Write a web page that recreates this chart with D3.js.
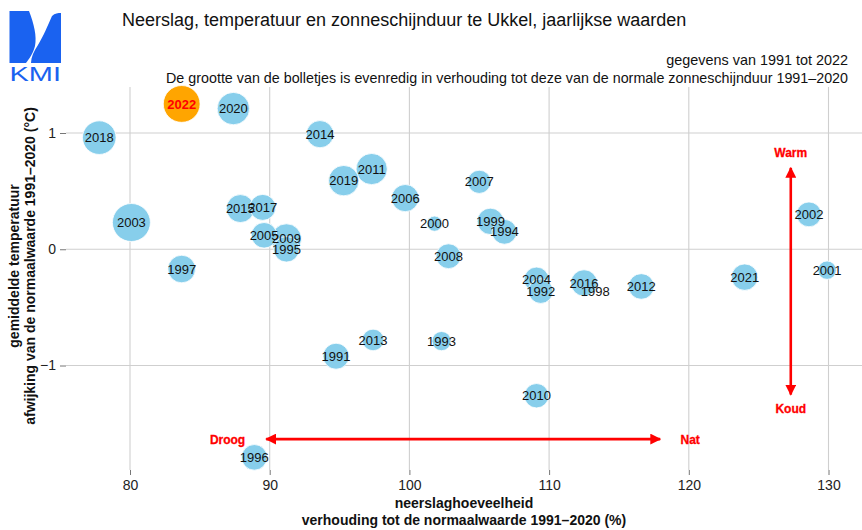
<!DOCTYPE html>
<html>
<head>
<meta charset="utf-8">
<script src="https://cdn.jsdelivr.net/npm/d3@7"></script>
<style>
  html, body { margin: 0; padding: 0; background: #fff; }
  svg { display: block; font-family: "Liberation Sans", Arial, Helvetica, sans-serif; }
</style>
</head>
<body>
<svg id="chart" width="862" height="530"></svg>
<script>
// ---------- DATA ----------
const years = [1991, 1992, 1993, 1994, 1995, 1996, 1997, 1998, 1999, 2000,
               2001, 2002, 2003, 2004, 2005, 2006, 2007, 2008, 2009, 2010,
               2011, 2012, 2013, 2014, 2015, 2016, 2017, 2018, 2019, 2020,
               2021, 2022];
// precipitation, ratio to normal 1991-2020 (%)
const precipitation = [94.75, 109.4, 102.3, 106.8, 91.2, 88.9, 83.7, 113.3, 105.8, 101.8,
                       129.9, 128.6, 80.1, 109.1, 89.6, 99.7, 105.0, 102.8, 91.2, 109.1,
                       97.3, 116.6, 97.4, 93.6, 87.9, 112.5, 89.5, 77.8, 95.3, 87.4,
                       124.0, 83.7];
// mean temperature, anomaly vs normal 1991-2020 (°C)
const temperature = [-0.92, -0.36, -0.79, 0.15, 0.0, -1.79, -0.17, -0.36, 0.24, 0.22,
                     -0.18, 0.30, 0.23, -0.26, 0.12, 0.44, 0.58, -0.06, 0.09, -1.26,
                     0.69, -0.32, -0.78, 0.99, 0.35, -0.29, 0.36, 0.96, 0.59, 1.21,
                     -0.24, 1.25];
// sunshine duration, ratio to normal 1991-2020 (%)
const sunshine = [110.5, 108.8, 102, 109, 110, 110, 112.5, 79, 111, 97,
                  101, 109, 125.5, 109, 110, 112, 107, 109, 115.5, 108.5,
                  117, 110, 105, 112, 113, 111, 110.5, 120, 116, 118.5,
                  111, 124];
const highlightYear = 2022;
const xTicks = [80, 90, 100, 110, 120, 130];
const yTicks = [-1, 0, 1];
const yTickLabels = ["\u22121", "0", "1"];

const title = "Neerslag, temperatuur en zonneschijnduur te Ukkel, jaarlijkse waarden";
const subtitle1 = "gegevens van 1991 tot 2022";
const subtitle2 = "De grootte van de bolletjes is evenredig in verhouding tot deze van de normale zonneschijnduur 1991\u20132020";
const xTitle = ["neerslaghoeveelheid", "verhouding tot de normaalwaarde 1991\u20132020 (%)"];
const yTitle = ["gemiddelde temperatuur", "afwijking van de normaalwaarde 1991\u20132020 (\u00B0C)"];

// ---------- LAYOUT ----------
const svg = d3.select("#chart");
const plot = { left: 66, right: 862, top: 87, bottom: 470 };

const x = d3.scaleLinear().domain([80, 130]).range([130, 828.5]);
const y = d3.scaleLinear().domain([-1, 1]).range([365.5, 133]);
const r = d3.scaleLinear().domain([78, 128]).range([0, 20]);

const gridColor = "#cfcfcf";
const font = '"Liberation Sans", Arial, Helvetica, sans-serif';

// ---------- LOGO ----------
const logo = svg.append("g").attr("fill", "#1a62f0");
logo.append("path").attr("d",
  "M9.5,11 L29,11 C34,24 37,36 35,46 C33,54 29,59 26,63 L9.5,63 Z");
logo.append("path").attr("d",
  "M61,13 L61,63 L31,63 C31,57 34,51 38,45 C43,37 48,25 52,16 C55,13 58,13 61,13 Z");
logo.append("text").attr("x", 9.5).attr("y", 81)
  .attr("textLength", 51.5).attr("lengthAdjust", "spacingAndGlyphs")
  .style("font-size", "20px").text("KMI");

// ---------- TITLES ----------
svg.append("text").attr("x", 122).attr("y", 26)
  .style("font-size", "18px").attr("fill", "#111").text(title);
svg.append("text").attr("x", 848).attr("y", 65).attr("text-anchor", "end")
  .style("font-size", "14.4px").attr("fill", "#111").text(subtitle1);
svg.append("text").attr("x", 848).attr("y", 83).attr("text-anchor", "end")
  .style("font-size", "14.3px").attr("fill", "#111").text(subtitle2);

// ---------- GRID ----------
const grid = svg.append("g").attr("stroke", gridColor).attr("stroke-width", 1.1);
grid.selectAll("line.v").data(xTicks).join("line")
  .attr("x1", d => x(d)).attr("x2", d => x(d))
  .attr("y1", plot.top).attr("y2", plot.bottom);
grid.selectAll("line.h").data(yTicks).join("line")
  .attr("x1", plot.left).attr("x2", plot.right)
  .attr("y1", d => y(d)).attr("y2", d => y(d));

// ---------- AXES (ticks + labels, no axis line) ----------
const xAxis = d3.axisBottom(x).tickValues(xTicks).tickSize(5).tickPadding(5);
const gx = svg.append("g").attr("transform", `translate(0,${plot.bottom})`).call(xAxis);
gx.select(".domain").remove();
gx.selectAll(".tick line").attr("stroke", "#777");
gx.selectAll(".tick text").style("font-size", "14px").style("font-family", font).attr("fill", "#222");

const yAxis = d3.axisLeft(y).tickValues(yTicks).tickSize(6).tickPadding(4)
  .tickFormat((d, i) => yTickLabels[i]);
const gy = svg.append("g").attr("transform", `translate(${plot.left},0)`).call(yAxis);
gy.select(".domain").remove();
gy.selectAll(".tick line").attr("stroke", "#777");
gy.selectAll(".tick text").style("font-size", "14px").style("font-family", font).attr("fill", "#222");

// axis titles
const xt = svg.append("g").attr("text-anchor", "middle")
  .style("font-size", "14px").style("font-weight", "bold").attr("fill", "#111");
xt.append("text").attr("x", 464).attr("y", 508).text(xTitle[0]);
xt.append("text").attr("x", 464).attr("y", 525).text(xTitle[1]);

const yt = svg.append("g").attr("text-anchor", "middle")
  .style("font-size", "14px").style("font-weight", "bold").attr("fill", "#111");
yt.append("text").attr("transform", "translate(19,266) rotate(-90)").text(yTitle[0]);
yt.append("text").attr("transform", "translate(35,266) rotate(-90)").text(yTitle[1]);

// ---------- ARROWS ----------
const red = "#ff0000";
const defs = svg.append("defs");
defs.append("marker").attr("id", "ah").attr("viewBox", "0 0 10 10")
  .attr("refX", 9).attr("refY", 5).attr("markerWidth", 4.2).attr("markerHeight", 4.2)
  .attr("markerUnits", "strokeWidth").attr("orient", "auto-start-reverse")
  .append("path").attr("d", "M0,0 L10,5 L0,10 Z").attr("fill", red);

const ann = svg.append("g");
// horizontal: dry <-> wet
ann.append("line")
  .attr("x1", x(89.75)).attr("x2", x(117.95))
  .attr("y1", y(-1.633)).attr("y2", y(-1.633))
  .attr("stroke", red).attr("stroke-width", 2.6)
  .attr("marker-start", "url(#ah)").attr("marker-end", "url(#ah)");
// vertical: warm <-> cold
ann.append("line")
  .attr("x1", x(127.3)).attr("x2", x(127.3))
  .attr("y1", y(0.70)).attr("y2", y(-1.25))
  .attr("stroke", red).attr("stroke-width", 2.6)
  .attr("marker-start", "url(#ah)").attr("marker-end", "url(#ah)");

const annText = ann.append("g").style("font-size", "12px").style("font-weight", "bold")
  .attr("fill", red).attr("stroke", red).attr("stroke-width", 0.3);
annText.append("text").attr("x", x(89.75) - 21).attr("y", y(-1.633) + 4.5)
  .attr("text-anchor", "end").text("Droog");
annText.append("text").attr("x", x(117.95) + 30).attr("y", y(-1.633) + 4.5)
  .attr("text-anchor", "middle").text("Nat");
annText.append("text").attr("x", x(127.3)).attr("y", y(0.70) - 11)
  .attr("text-anchor", "middle").text("Warm");
annText.append("text").attr("x", x(127.3)).attr("y", y(-1.25) + 18.5)
  .attr("text-anchor", "middle").text("Koud");

// ---------- BUBBLES ----------
const data = years.map((yr, i) => ({
  year: yr, p: precipitation[i], t: temperature[i], s: sunshine[i]
}));
// larger bubbles drawn first, smaller ones on top
const ordered = data.slice().sort((a, b) => b.s - a.s);

svg.append("g").selectAll("circle").data(ordered).join("circle")
  .attr("cx", d => x(d.p)).attr("cy", d => y(d.t)).attr("r", d => Math.max(0, r(d.s)))
  .attr("fill", d => d.year === highlightYear ? "#ffa500" : "#87ceeb")
  .attr("stroke", "#ffffff").attr("stroke-width", 0.8);

svg.append("g").selectAll("text").data(ordered).join("text")
  .attr("x", d => x(d.p)).attr("y", d => y(d.t) + 4.6)
  .attr("text-anchor", "middle")
  .style("font-size", "13px")
  .style("font-weight", d => d.year === highlightYear ? "bold" : "normal")
  .attr("fill", d => d.year === highlightYear ? "#ff0000" : "#111")
  .text(d => d.year);
</script>
</body>
</html>
